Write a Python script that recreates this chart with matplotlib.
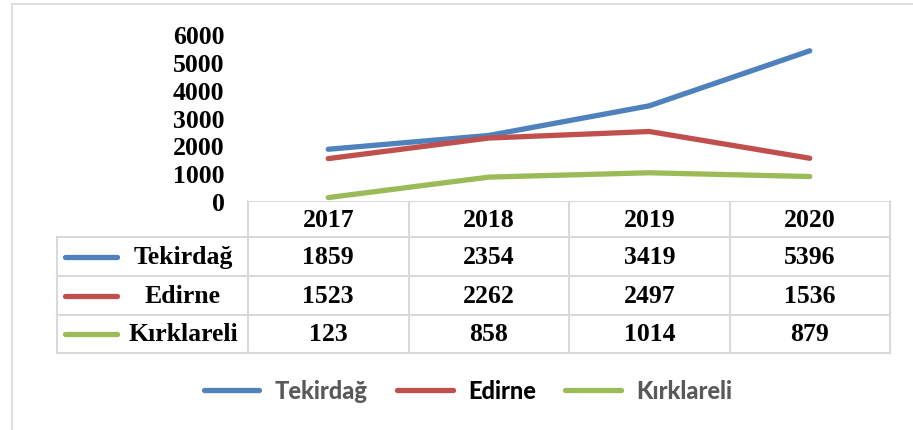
import matplotlib.pyplot as plt
import matplotlib.transforms as mtransforms
from matplotlib.lines import Line2D

years = ['2017', '2018', '2019', '2020']
provinces = ['Tekirdağ', 'Edirne', 'Kırklareli']
tekirdag = [1859, 2354, 3419, 5396]
edirne = [1523, 2262, 2497, 1536]
kirklareli = [123, 858, 1014, 879]
series = [tekirdag, edirne, kirklareli]
colors = ['#4F81BD', '#C0504D', '#9BBB59']
legend_text_colors = ['#595959', '#000000', '#595959']

W, H = 913, 431
fig = plt.figure(figsize=(W / 100, H / 100), dpi=100)

# chart area (pixel layout)
ax = fig.add_axes([248 / W, (H - 202) / H, 642 / W, 167 / H])
x = list(range(len(years)))
handles = []
for name, vals, c in zip(provinces, series, colors):
    h, = ax.plot(x, vals, color=c, lw=3.8, solid_capstyle='round', clip_on=False, label=name)
    handles.append(h)
ax.set_xlim(-0.5, len(years) - 0.5)
ax.set_ylim(0, 6000)
ax.set_yticks(range(0, 6001, 1000))
ax.set_xticks([])
ax.tick_params(axis='y', length=0, pad=17)
for lab in ax.get_yticklabels():
    lab.set_fontfamily('Liberation Serif')
    lab.set_fontweight('bold')
    lab.set_fontsize(18.5)
for s in ax.spines.values():
    s.set_visible(False)

# overlay in pixel coordinates for the data table and frame
over = fig.add_axes([0, 0, 1, 1], zorder=-1)
over.set_xlim(0, W)
over.set_ylim(H, 0)
over.axis('off')
grid = '#D9D9D9'

# outer chart frame (top and left only visible)
over.plot([12, W], [5, 5], color=grid, lw=1.2)
over.plot([12, 12], [5, H], color=grid, lw=1.2)

bt = mtransforms.blended_transform_factory(ax.transData, over.transData)
row_edges = [202, 238, 277, 316, 354]
n = len(years)
# horizontal lines
over.plot([-0.5, n - 0.5], [row_edges[0]] * 2, color=grid, lw=1.5, transform=bt)
for y in row_edges[1:]:
    over.plot([57, 890], [y, y], color=grid, lw=1.5)
# vertical lines
for i in range(n + 1):
    over.plot([i - 0.5, i - 0.5], [row_edges[0], row_edges[-1]], color=grid, lw=1.5, transform=bt)
over.plot([57, 57], [row_edges[1], row_edges[-1]], color=grid, lw=1.5)

tfont = dict(family='Liberation Serif', weight='bold', size=18.5)
for i, yr in enumerate(years):
    over.text(i, (row_edges[0] + row_edges[1]) / 2 + 1, yr, ha='center', va='center', transform=bt, **tfont)
for r, (name, vals, c) in enumerate(zip(provinces, series, colors)):
    yc = (row_edges[r + 1] + row_edges[r + 2]) / 2
    over.add_line(Line2D([65, 117], [yc, yc], color=c, lw=3.8, solid_capstyle='round'))
    over.text(183, yc, name, ha='center', va='center', **tfont)
    for i, v in enumerate(vals):
        over.text(i, yc, str(v), ha='center', va='center', transform=bt, **tfont)

leg = fig.legend(handles=handles, loc='center', bbox_to_anchor=(468 / W, (H - 392) / H),
                 ncol=3, frameon=False, prop=dict(family='Lato', weight='black', size=17),
                 handlelength=2.35, handletextpad=0.65, columnspacing=1.25)
for t, c in zip(leg.get_texts(), legend_text_colors):
    t.set_color(c)

fig.savefig('out.png', dpi=100)
